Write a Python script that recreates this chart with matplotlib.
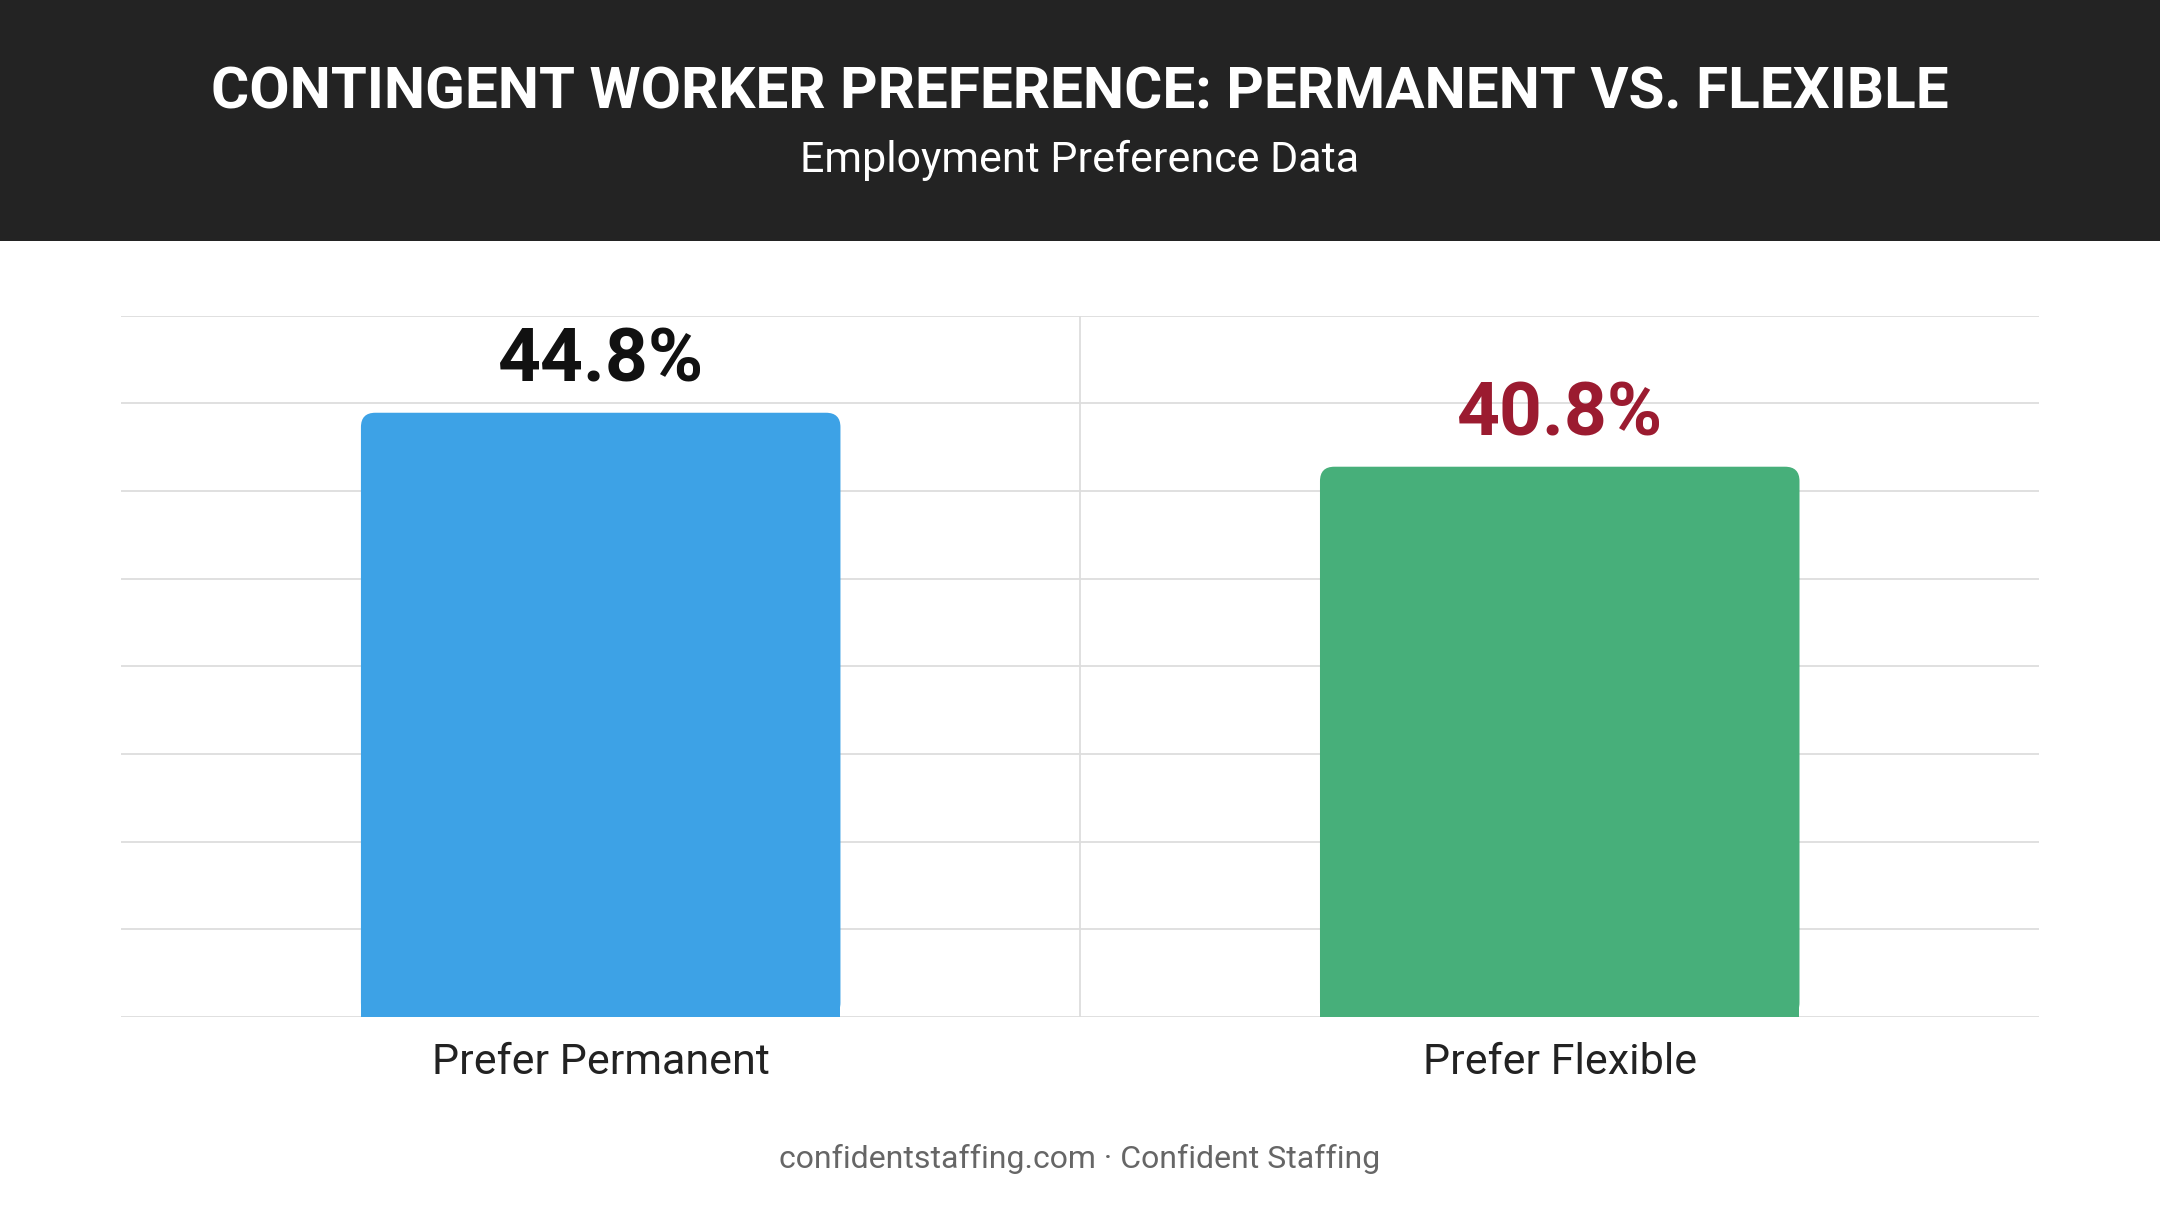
import matplotlib
matplotlib.use('Agg')
import matplotlib.pyplot as plt
from matplotlib.patches import FancyBboxPatch, Rectangle
import numpy as np

CATEGORIES = ['Prefer Permanent', 'Prefer Flexible']
VALUES = [44.8, 40.8]
BAR_COLORS = ['#3DA2E6', '#47AF7A']
LABEL_COLORS = ['#111111', '#9B1B30']
Y_MAX = 52
Y_STEP = 6.5

plt.rcParams['font.family'] = ['Roboto', 'DejaVu Sans']

fig = plt.figure(figsize=(21.6, 12.06), dpi=100)
fig.patch.set_facecolor('white')

# header band
fig.patches.append(Rectangle((0, 0.8), 1, 0.2, transform=fig.transFigure,
                             facecolor='#232323', edgecolor='none', zorder=0))
fig.text(0.5, 0.923, 'CONTINGENT WORKER PREFERENCE: PERMANENT VS. FLEXIBLE',
         ha='center', va='center', color='white', fontsize=42, fontweight='bold')
fig.text(0.5, 0.867, 'Employment Preference Data', ha='center', va='center',
         color='white', fontsize=31)

ax = fig.add_axes([0.0561, 0.1566, 0.888, 0.5817])
ax.set_xlim(0, 2)
ax.set_ylim(0, Y_MAX)
for y in np.arange(0, Y_MAX + 0.01, Y_STEP):
    ax.axhline(y, color='#dddddd', lw=1.3, zorder=0)
ax.axvline(1, color='#dddddd', lw=1.3, zorder=0)
for s in ax.spines.values():
    s.set_visible(False)
ax.set_yticks([])
ax.set_xticks([0.5, 1.5])
ax.set_xticklabels(CATEGORIES, fontsize=31, color='#222222')
ax.tick_params(axis='x', length=0, pad=18)

bbox = ax.get_window_extent()
aspect = (Y_MAX / bbox.height) / (2 / bbox.width)
w = 0.5
for i, (v, c, lc) in enumerate(zip(VALUES, BAR_COLORS, LABEL_COLORS)):
    x0 = i + 0.5 - w / 2
    ax.add_patch(FancyBboxPatch((x0, 0), w, v,
                                boxstyle='round,pad=0,rounding_size=0.015',
                                mutation_aspect=aspect, facecolor=c,
                                edgecolor='none', zorder=2))
    ax.add_patch(Rectangle((x0, 0), w, 2, facecolor=c, edgecolor='none', zorder=2))
    ax.text(i + 0.5, v + 1.2, f'{v:.1f}%', ha='center', va='bottom',
            fontsize=54, fontweight='bold', color=lc, zorder=3)

fig.text(0.5, 0.039, 'confidentstaffing.com \u00b7 Confident Staffing', ha='center',
         va='center', color='#666666', fontsize=23)

fig.savefig('out.png', dpi=100)
